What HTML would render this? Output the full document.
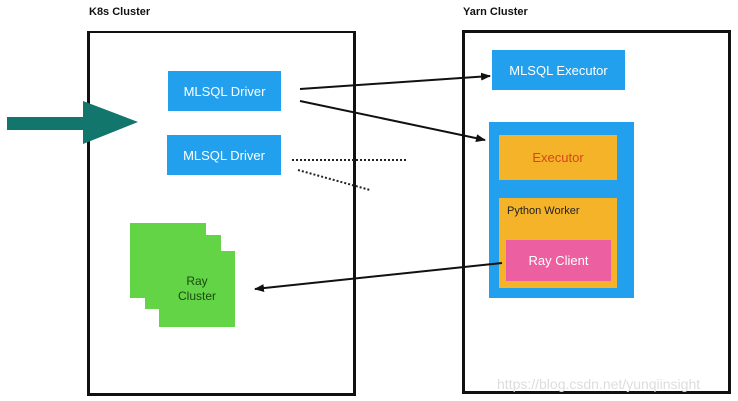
<!DOCTYPE html>
<html><head><style>
body{margin:0;width:738px;height:401px;background:#fff;position:relative;overflow:hidden;font-family:"Liberation Sans",sans-serif}
.a{position:absolute;box-sizing:border-box}
.b{display:flex;align-items:center;justify-content:center;color:#fff;font-size:13px}
</style></head><body>
<div class="a" style="left:89px;top:6px;font-size:11px;font-weight:bold;color:#111">K8s Cluster</div>
<div class="a" style="left:463px;top:6px;font-size:11px;font-weight:bold;color:#111">Yarn Cluster</div>
<div class="a" style="left:87px;top:31px;width:269px;height:365px;border:3px solid #111;border-top-width:2px"></div>
<div class="a" style="left:462px;top:30px;width:269px;height:364px;border:3px solid #111"></div>
<div class="a b" style="left:168px;top:71px;width:113px;height:40px;background:#22a0ee">MLSQL Driver</div>
<div class="a b" style="left:167px;top:135px;width:114px;height:40px;background:#22a0ee">MLSQL Driver</div>
<div class="a b" style="left:492px;top:50px;width:133px;height:40px;background:#22a0ee">MLSQL Executor</div>
<div class="a" style="left:489px;top:122px;width:145px;height:176px;background:#22a0ee"></div>
<div class="a b" style="left:499px;top:135px;width:118px;height:45px;background:#f5b32a;color:#d4461a">Executor</div>
<div class="a" style="left:499px;top:198px;width:118px;height:90px;background:#f5b32a"></div>
<div class="a" style="left:507px;top:205px;font-size:11px;color:#222">Python Worker</div>
<div class="a b" style="left:506px;top:240px;width:105px;height:41px;background:#ec5fa0">Ray Client</div>
<div class="a" style="left:130px;top:223px;width:76px;height:75px;background:#63d445"></div>
<div class="a" style="left:145px;top:235px;width:76px;height:74px;background:#63d445"></div>
<div class="a" style="left:159px;top:251px;width:76px;height:76px;background:#63d445"></div>
<div class="a" style="left:159px;top:274px;width:76px;text-align:center;font-size:12px;color:#1a4a12;line-height:15px">Ray<br>Cluster</div>
<div class="a" style="left:497px;top:376px;font-size:14px;color:#ddd">https://blog.csdn.net/yunqiinsight</div>
<svg class="a" style="left:0;top:0" width="738" height="401">
<defs><marker id="m" markerWidth="10" markerHeight="8" refX="9" refY="4" orient="auto" markerUnits="userSpaceOnUse"><path d="M0,0L10,4L0,8z" fill="#111"/></marker></defs>
<rect x="7" y="117" width="78" height="13" fill="#13766d"/>
<path d="M83,101L138,122L83,144z" fill="#13766d"/>
<line x1="300" y1="89" x2="490" y2="76" stroke="#111" stroke-width="2" marker-end="url(#m)"/>
<line x1="300" y1="101" x2="485" y2="140" stroke="#111" stroke-width="2" marker-end="url(#m)"/>
<line x1="502" y1="263" x2="255" y2="289" stroke="#111" stroke-width="2" marker-end="url(#m)"/>
<line x1="292" y1="160" x2="408" y2="160" stroke="#222" stroke-width="2" stroke-dasharray="2,2"/>
<line x1="298" y1="170" x2="370" y2="190" stroke="#222" stroke-width="2" stroke-dasharray="2,2"/>
</svg>
</body></html>
